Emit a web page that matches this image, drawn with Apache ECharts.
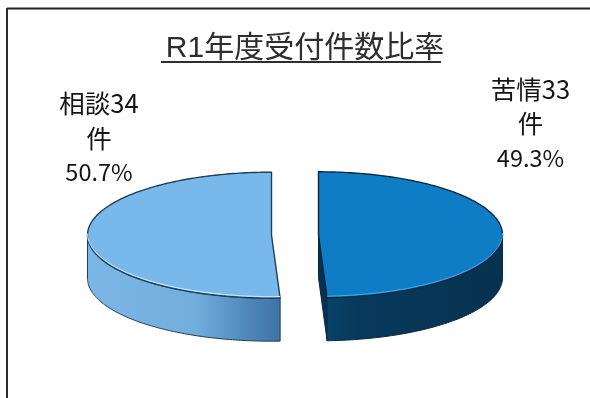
<!DOCTYPE html>
<html>
<head>
<meta charset="utf-8">
<style>html,body{margin:0;padding:0;background:#fff}#main{width:590px;height:398px}</style>
<script src="https://cdn.jsdelivr.net/npm/echarts@6/dist/echarts.min.js"></script>
</head>
<body>
<div id="main"></div>
<script>
// Reception counts for fiscal R1
const chartTitle = 'R1年度受付件数比率';
const categories = ['苦情', '相談'];
const counts = [33, 34];
const unit = '件';

// Disc geometry of the tilted pie
const disc = { cx: 295, cy: 235, rx: 184, ry: 63, depth: 43, explode: 23.5 };
const STEP = Math.PI / 180;

const palette = [
  { top: '#0f7cc6', rim: '#4fa8e2', wall: [[0, '#0a4268'], [0.2, '#07395c'], [1, '#07324f']], face: '#07314f', edge: '#0a2a42' },
  { top: '#78b8ea', rim: '#d2ecfa', wall: [[0, '#7cb6e6'], [0.55, '#74aedd'], [0.82, '#5089bd'], [1, '#3e72a4']], face: '#3e72a4', edge: '#1f4058' }
];
const labelSpots = [
  { x: 530.5, y: 123.5 },
  { x: 99, y: 138 }
];

const total = counts.reduce((a, b) => a + b, 0);
const chart = echarts.init(document.getElementById('main'), null, { renderer: 'canvas' });

function point(o, t, dy) {
  return [o.x + disc.rx * Math.sin(t), o.y - disc.ry * Math.cos(t) + (dy || 0)];
}

function arc(o, from, to, dy) {
  const pts = [];
  const n = Math.max(2, Math.ceil(Math.abs(to - from) / STEP));
  for (let i = 0; i <= n; i++) pts.push(point(o, from + (to - from) * i / n, dy));
  return pts;
}

function renderSlice(params, api) {
  const i = params.dataIndex;
  const value = api.value(0);
  let before = 0;
  for (let k = 0; k < i; k++) before += counts[k];
  const t0 = before / total * 2 * Math.PI;
  const t1 = (before + value) / total * 2 * Math.PI;
  const mid = (t0 + t1) / 2;
  const o = {
    x: disc.cx + disc.explode * Math.sin(mid),
    y: disc.cy - disc.explode * Math.cos(mid) * disc.ry / disc.rx
  };
  const c = palette[i];
  const children = [];

  // Cut face turned toward the viewer
  if (Math.sin(t1) > 0 && Math.cos(t1) < 0) {
    const p = point(o, t1);
    children.push({
      type: 'polygon',
      shape: { points: [[o.x, o.y], [o.x, o.y + disc.depth], [p[0], p[1] + disc.depth], p] },
      style: { fill: c.face, stroke: c.edge, lineWidth: 1 }
    });
  }

  // Outer wall, front half only
  const a = Math.max(t0, Math.PI / 2);
  const b = Math.min(t1, Math.PI * 1.5);
  if (b > a) {
    const upper = arc(o, a, b);
    const lower = arc(o, b, a, disc.depth);
    const stops = c.wall.map(s => ({ offset: s[0], color: s[1] }));
    children.push({
      type: 'polygon',
      shape: { points: upper.concat(lower) },
      style: {
        fill: new echarts.graphic.LinearGradient(0, 0, 1, 0, stops),
        stroke: c.edge,
        lineWidth: 1
      }
    });
  }

  // Top surface
  children.push({
    type: 'polygon',
    shape: { points: [[o.x, o.y]].concat(arc(o, t0, t1)) },
    style: { fill: c.top, stroke: c.edge, lineWidth: 1.4, lineJoin: 'round' }
  });

  // Pale highlight just inside the front rim
  if (b > a) {
    children.push({
      type: 'polyline',
      shape: { points: arc(o, a, b, -1.6) },
      style: { fill: null, stroke: c.rim, lineWidth: 1 }
    });
  }

  // Three-line data label; the percentage line sets slightly smaller
  const pct = (value / total * 100).toFixed(1) + '%';
  const spot = labelSpots[i];
  const lines = [categories[i] + value, unit, pct];
  lines.forEach((line, n) => {
    const size = n === 2 ? 23.5 : 25.5;
    children.push({
      type: 'text',
      style: {
        x: spot.x,
        y: spot.y + (n - 1) * 34.5,
        text: line,
        fill: '#141414',
        font: '400 ' + size + 'px "Noto Sans CJK JP", "Noto Sans", sans-serif',
        align: 'center',
        verticalAlign: 'middle'
      }
    });
  });

  return { type: 'group', children };
}

chart.setOption({
  animation: false,
  backgroundColor: '#ffffff',
  title: {
    text: chartTitle,
    left: 300,
    top: 29,
    textAlign: 'center',
    textStyle: {
      color: '#2e2e2e',
      fontFamily: '"Liberation Sans", "Noto Sans CJK JP", sans-serif',
      fontSize: 30,
      fontWeight: 400
    }
  },
  graphic: [
    { type: 'line', shape: { x1: 7, y1: 8.5, x2: 590, y2: 8.5 }, style: { stroke: '#222222', lineWidth: 2 } },
    { type: 'line', shape: { x1: 7, y1: 8, x2: 7, y2: 398 }, style: { stroke: '#2b2b2b', lineWidth: 2 } },
    { type: 'line', shape: { x1: 161, y1: 62, x2: 441, y2: 62 }, style: { stroke: '#2e2e2e', lineWidth: 2 } }
  ],
  series: [{
    type: 'custom',
    coordinateSystem: 'none',
    renderItem: renderSlice,
    data: counts.map((v, i) => ({ name: categories[i], value: [v] }))
  }]
});
</script>
</body>
</html>
